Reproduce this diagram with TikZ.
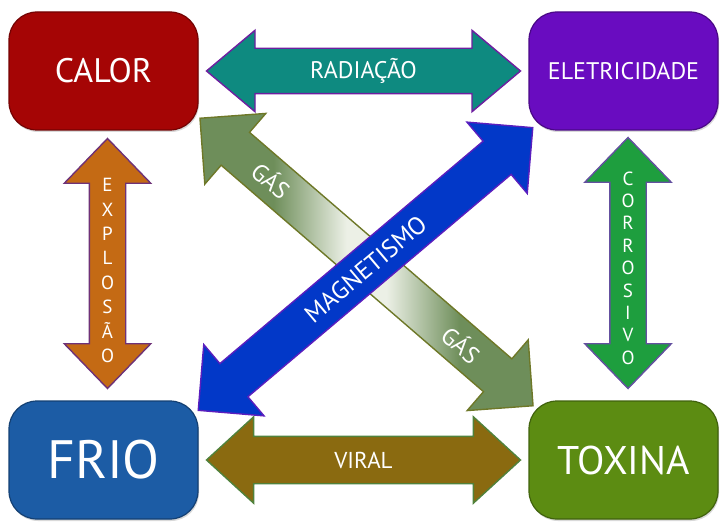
\documentclass[tikz,border=0pt]{standalone}
\usepackage{fontspec}
\setmainfont{PT Sans}
\usetikzlibrary{shapes.arrows,calc,shadows}

\definecolor{calorred}{RGB}{165,5,5}
\definecolor{eletpurple}{RGB}{105,12,192}
\definecolor{frioblue}{RGB}{28,92,165}
\definecolor{toxgreen}{RGB}{92,140,18}
\definecolor{radteal}{RGB}{14,138,128}
\definecolor{radline}{RGB}{110,30,160}
\definecolor{viralbrown}{RGB}{138,106,16}
\definecolor{viralline}{RGB}{80,130,60}
\definecolor{explorange}{RGB}{196,106,20}
\definecolor{explline}{RGB}{110,50,120}
\definecolor{corrgreen}{RGB}{30,158,62}
\definecolor{corrline}{RGB}{100,80,160}
\definecolor{magblue}{RGB}{2,56,200}
\definecolor{magline}{RGB}{90,30,190}
\definecolor{gasgreen}{RGB}{110,142,90}
\definecolor{gaslight}{RGB}{236,240,230}
\definecolor{gasline}{RGB}{110,120,40}

% olive at both ends, pale in the middle
\pgfdeclarehorizontalshading{gasfade}{100bp}{color(0bp)=(gasgreen); color(36bp)=(gasgreen);
    color(47bp)=(gaslight); color(53bp)=(gaslight); color(64bp)=(gasgreen); color(100bp)=(gasgreen)}

\begin{document}
\begin{tikzpicture}[x=1pt,y=-1pt,
    box/.style={rectangle, rounded corners=28pt, minimum width=189pt, minimum height=118pt,
        inner sep=0pt, fill=#1, draw=#1!70!black, line width=1.2pt, text=white,
        drop shadow={opacity=0.3, shadow xshift=1pt, shadow yshift=-2pt}},
    blockarrow/.style={double arrow, double arrow head indent=0pt, inner xsep=0pt,
        inner ysep=#1/2, line width=1.4pt},
    lbl/.style={text=white, font=\fontsize{24pt}{24pt}\selectfont}]

    \useasboundingbox (0,0) rectangle (727,529);

    % Boxes
    \node[box=calorred, font=\fontsize{34pt}{34pt}\selectfont] (calor) at (103.5,71) {CALOR};
    \node[box=eletpurple, font=\fontsize{24pt}{24pt}\selectfont] (elet) at (623.5,71) {ELETRICIDADE};
    \node[box=frioblue, font=\fontsize{54pt}{54pt}\selectfont] (frio) at (103.5,460) {FRIO};
    \node[box=toxgreen, font=\fontsize{40pt}{40pt}\selectfont] (toxina) at (623.5,460) {TOXINA};

    % Horizontal arrows
    \node[blockarrow=44pt, fill=radteal, draw=radline, minimum height=314pt, minimum width=80pt,
        double arrow head extend=18pt, double arrow tip angle=80]
        (radiacao) at ($(calor.east)!0.5!(elet.west)$) {};
    \node[lbl] at (radiacao) {RADIAÇÃO};
    \node[blockarrow=46pt, fill=viralbrown, draw=viralline, minimum height=314pt, minimum width=85pt,
        double arrow head extend=19.5pt, double arrow tip angle=85]
        (viral) at ($(frio.east)!0.5!(toxina.west)$) {};
    \node[lbl, font=\fontsize{23pt}{23pt}\selectfont] at (viral) {VIRAL};

    % Vertical arrows
    \node[blockarrow=35pt, fill=explorange, draw=explline, minimum height=250pt, minimum width=85pt,
        double arrow head extend=25pt, double arrow tip angle=88, rotate=90]
        (explosao) at ($(calor.south)!0.5!(frio.north)+(4,-2)$) {};
    \node[lbl, align=center, font=\fontsize{19pt}{24.4pt}\selectfont]
        at ($(explosao)+(0,7)$) {E\\X\\P\\L\\O\\S\\Ã\\O};
    \node[blockarrow=35pt, fill=corrgreen, draw=corrline, minimum height=251pt, minimum width=85pt,
        double arrow head extend=25pt, double arrow tip angle=88, rotate=90]
        (corrosivo) at ($(elet.south)!0.5!(toxina.north)+(4.5,-2.5)$) {};
    \node[lbl, align=center, font=\fontsize{19pt}{22.4pt}\selectfont]
        at ($(corrosivo)+(0,5)$) {C\\O\\R\\R\\O\\S\\I\\V\\O};

    % Diagonal arrows
    \node[blockarrow=42pt, minimum height=440pt, minimum width=92pt, double arrow head extend=25pt,
        rotate=-40.8, draw=gasline, shading=gasfade]
        (gas) at ($(calor.south east)!0.5!(toxina.north west)+(3,-3.5)$) {};
    \node[lbl, rotate=-40.8] at ($(gas.west)!0.216!(gas.east)$) {GÁS};
    \node[lbl, rotate=-40.8] at ($(gas.west)!0.784!(gas.east)$) {GÁS};
    \node[blockarrow=42pt, fill=magblue, draw=magline, minimum height=438pt, minimum width=92pt,
        double arrow head extend=25pt, rotate=40.2]
        (magnet) at ($(frio.north east)!0.5!(elet.south west)+(2,3.5)$) {};
    \node[lbl, rotate=40.2, font=\fontsize{25pt}{25pt}\selectfont] at (magnet) {MAGNETISMO};

\end{tikzpicture}
\end{document}
